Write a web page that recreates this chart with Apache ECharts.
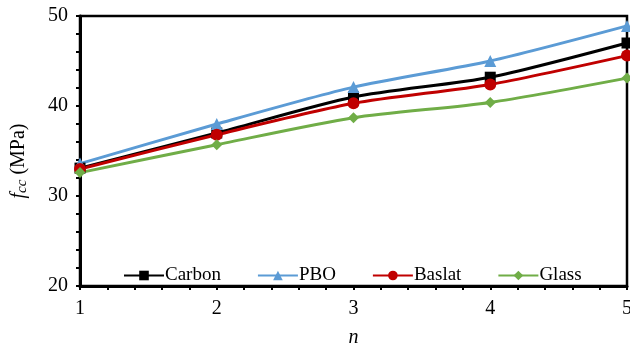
<!DOCTYPE html>
<html><head><meta charset="utf-8">
<script src="https://cdn.jsdelivr.net/npm/echarts@6/dist/echarts.min.js"></script>
<style>html,body{margin:0;padding:0;background:#fff}#c{width:630px;height:350px}</style>
</head><body><div id="c"></div>
<script>
const nValues = [1, 2, 3, 4, 5];
const carbon = [33.1, 37.0, 41.0, 43.2, 47.0];
const pbo = [33.6, 38.0, 42.1, 45.0, 48.9];
const basalt = [33.0, 36.8, 40.3, 42.4, 45.6];
const glass = [32.6, 35.7, 38.7, 40.4, 43.1];
const seriesNames = ['Carbon', 'PBO', 'Baslat', 'Glass'];
const FONT = '"Liberation Serif", "Times New Roman", serif';

const chart = echarts.init(document.getElementById('c'), null, {renderer: 'canvas'});
function mk(name, data, color, symbol, size) {
  return {
    name, type: 'line', smooth: 0.25,
    data: nValues.map((n, i) => [n, data[i]]),
    symbol, symbolSize: size, showSymbol: true,
    lineStyle: {color, width: 3},
    itemStyle: {color},
    emphasis: {disabled: true},
    z: 3
  };
}
const axisCommon = {
  axisLine: {show: true, onZero: false, lineStyle: {color: '#000', width: 3}},
  axisTick: {show: true, inside: false, length: 4, lineStyle: {color: '#000', width: 2}},
  minorTick: {show: true, splitNumber: 5, length: 4, lineStyle: {color: '#000', width: 2}},
  splitLine: {show: false},
  axisLabel: {color: '#000', fontFamily: FONT, fontSize: 20}
};
chart.setOption({
  animation: false,
  grid: {left: 80, right: 3, top: 16, bottom: 64, show: true, borderColor: '#000', borderWidth: 2.5, outerBoundsMode: 'none', containLabel: false},
  legend: {
    data: seriesNames, left: 118, top: 261, itemGap: 36, itemWidth: 40, itemHeight: 12,
    textStyle: {fontFamily: FONT, fontSize: 19, color: '#000', padding: [0, 0, 0, -4]}
  },
  xAxis: Object.assign({}, axisCommon, {
    type: 'value', min: 1, max: 5, interval: 1,
    axisLabel: Object.assign({}, axisCommon.axisLabel, {margin: 13}),
    name: 'n', nameLocation: 'middle', nameGap: 42,
    nameTextStyle: {fontFamily: FONT, fontSize: 20, fontStyle: 'italic', color: '#000'}
  }),
  yAxis: Object.assign({}, axisCommon, {
    type: 'value', min: 20, max: 50, interval: 10,
    axisLabel: Object.assign({}, axisCommon.axisLabel, {margin: 12}),
    name: '{f|f}{s|cc}{r| (MPa)}', nameLocation: 'middle', nameGap: 50,
    nameTextStyle: {
      padding: [0, 20, 0, 0],
      rich: {
        f: {fontFamily: FONT, fontSize: 20, fontStyle: 'italic', color: '#000'},
        s: {fontFamily: FONT, fontSize: 15, fontStyle: 'italic', color: '#000', verticalAlign: 'bottom', padding: [8, 0, 0, 0]},
        r: {fontFamily: FONT, fontSize: 20, color: '#000'}
      }
    }
  }),
  series: [
    mk('Carbon', carbon, '#000000', 'rect', 11),
    mk('PBO', pbo, '#5B9BD5', 'triangle', 12),
    mk('Baslat', basalt, '#C00000', 'circle', 12),
    mk('Glass', glass, '#70AD47', 'diamond', 11)
  ]
});
</script></body></html>
